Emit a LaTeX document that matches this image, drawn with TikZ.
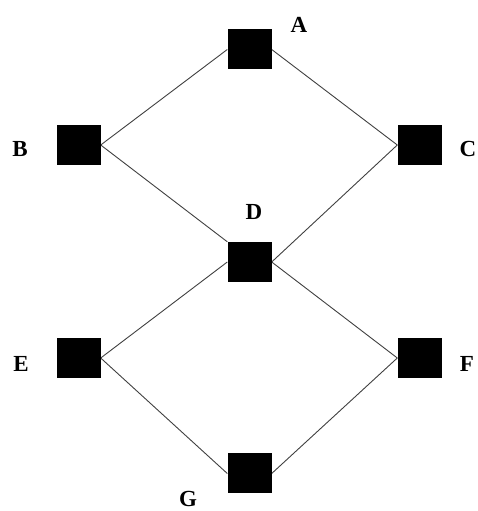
\documentclass[tikz,border=0pt]{standalone}
\usepackage{fontspec}
\setmainfont{Liberation Serif}
\usetikzlibrary{backgrounds}
\begin{document}
\begin{tikzpicture}[x=1pt,y=1pt,
  box/.style={draw=none,fill=black,minimum width=44pt,minimum height=40pt,inner sep=0pt},
  lbl/.style={font=\bfseries\fontsize{23}{23}\selectfont,inner sep=0pt,anchor=base},
  link/.style={draw=black!75,line width=0.9pt}]
\useasboundingbox (0,0) rectangle (478,511);
% vertex boxes (pixel positions, y measured from the top)
\node[box] (A) at (249.5,511-49.5) {};
\node[box] (B) at (78.5,511-145) {};
\node[box] (C) at (419.5,511-145) {};
\node[box] (D) at (249.5,511-262) {};
\node[box] (E) at (78.5,511-358) {};
\node[box] (F) at (419.5,511-358) {};
\node[box] (G) at (249.5,511-473.5) {};
% edges, kept behind the boxes
\begin{scope}[on background layer]
\draw[link] (B.east) -- (A.west);
\draw[link] (A.east) -- (C.west);
\draw[link] (B.east) -- (D.north west);
\draw[link] (C.west) -- (D.east);
\draw[link] (E.east) -- (D.west);
\draw[link] (D.east) -- (F.west);
\draw[link] (E.east) -- (G.west);
\draw[link] (G.east) -- (F.west);
\end{scope}
% labels
\node[lbl] (lA) at (299,511-33) {A};
\node[lbl] (lB) at (20,511-157) {B};
\node[lbl] (lC) at (468,511-157) {C};
\node[lbl] (lD) at (254,511-220) {D};
\node[lbl] (lE) at (21,511-372) {E};
\node[lbl] (lF) at (467,511-372) {F};
\node[lbl] (lG) at (188,511-506) {G};
\end{tikzpicture}
\end{document}
